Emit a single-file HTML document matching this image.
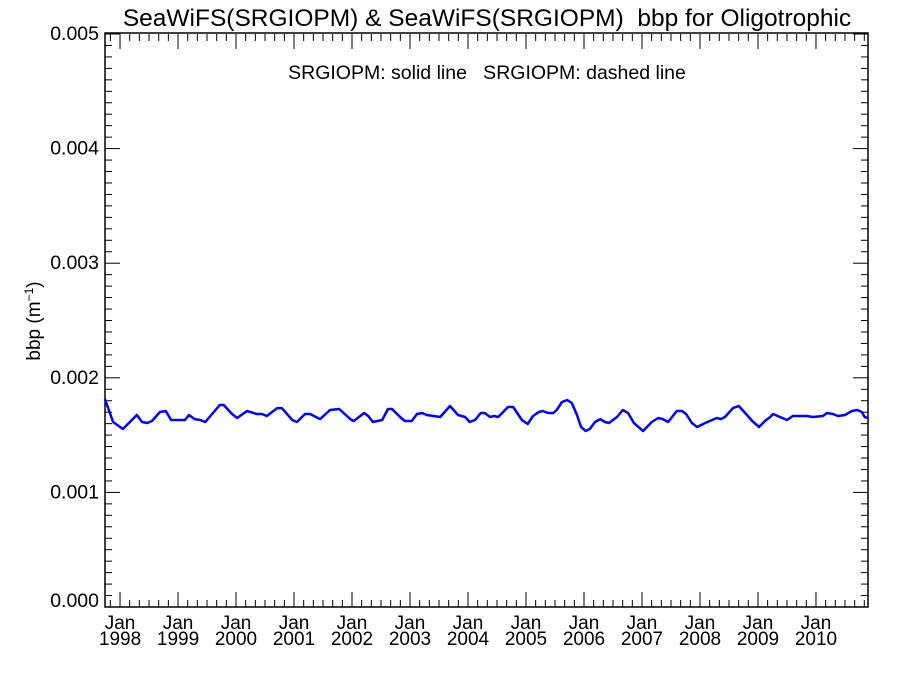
<!DOCTYPE html>
<html><head><meta charset="utf-8"><style>
body{margin:0;background:#fff;}
svg{display:block;font-family:"Liberation Sans",sans-serif;}
</style></head><body>
<svg id="chart" width="900" height="675" viewBox="0 0 900 675" xmlns="http://www.w3.org/2000/svg">
<rect width="900" height="675" fill="#fff"/>
<text x="487" y="26" font-size="24.5" text-anchor="middle" style="white-space:pre">SeaWiFS(SRGIOPM) &amp; SeaWiFS(SRGIOPM)  bbp for Oligotrophic</text>
<text x="487" y="79" font-size="19.5" text-anchor="middle" style="white-space:pre">SRGIOPM: solid line   SRGIOPM: dashed line</text>
<text transform="translate(40,321) rotate(-90)" font-size="19" text-anchor="middle">bbp (m<tspan font-size="12" dy="-7">−1</tspan><tspan dy="7">)</tspan></text>
<g id="axes"></g>
<g id="series"></g>
</svg>
<script>
const times=[1997.74,1997.88,1998.05,1998.17,1998.29,1998.38,1998.47,1998.55,1998.69,1998.79,1998.88,1999.12,1999.19,1999.29,1999.38,1999.47,1999.72,1999.79,1999.93,2000.02,2000.19,2000.36,2000.45,2000.53,2000.71,2000.79,2000.97,2001.05,2001.19,2001.28,2001.45,2001.62,2001.78,2001.97,2002.03,2002.21,2002.28,2002.36,2002.52,2002.62,2002.69,2002.83,2002.91,2003.03,2003.12,2003.21,2003.29,2003.52,2003.69,2003.83,2003.95,2004.03,2004.12,2004.22,2004.29,2004.38,2004.45,2004.52,2004.69,2004.78,2004.93,2005.03,2005.12,2005.22,2005.29,2005.38,2005.47,2005.53,2005.62,2005.71,2005.79,2005.88,2005.95,2006.03,2006.10,2006.19,2006.28,2006.36,2006.43,2006.57,2006.67,2006.76,2006.86,2007.02,2007.17,2007.28,2007.36,2007.45,2007.60,2007.69,2007.76,2007.86,2007.95,2008.09,2008.29,2008.36,2008.43,2008.57,2008.67,2008.78,2008.90,2009.02,2009.12,2009.21,2009.26,2009.38,2009.50,2009.60,2009.84,2009.95,2010.12,2010.19,2010.29,2010.38,2010.50,2010.62,2010.71,2010.79,2010.84,2010.90];
const bbp=[1.815,1.614,1.553,1.614,1.675,1.614,1.606,1.623,1.702,1.710,1.632,1.632,1.675,1.640,1.632,1.614,1.763,1.763,1.684,1.649,1.710,1.684,1.684,1.667,1.736,1.736,1.632,1.614,1.684,1.684,1.640,1.719,1.728,1.640,1.623,1.693,1.667,1.614,1.632,1.728,1.728,1.658,1.623,1.623,1.684,1.693,1.675,1.658,1.754,1.675,1.658,1.614,1.632,1.693,1.693,1.658,1.667,1.658,1.745,1.745,1.632,1.597,1.667,1.702,1.710,1.693,1.693,1.719,1.789,1.806,1.780,1.675,1.571,1.536,1.553,1.614,1.640,1.614,1.606,1.658,1.719,1.693,1.606,1.536,1.614,1.649,1.640,1.614,1.710,1.710,1.684,1.606,1.571,1.606,1.649,1.640,1.658,1.736,1.754,1.693,1.623,1.571,1.623,1.658,1.684,1.658,1.632,1.667,1.667,1.658,1.667,1.693,1.684,1.667,1.675,1.710,1.719,1.702,1.658,1.649];
const yTicks=[0,0.001,0.002,0.003,0.004,0.005];
const yTickLabels=["0.000","0.001","0.002","0.003","0.004","0.005"];
const xYears=[1998,1999,2000,2001,2002,2003,2004,2005,2006,2007,2008,2009,2010];
const L=105,R=868,T=34,B=607,X0=1997.741,X1=2010.897,Y0=0,Y1=0.005;
const NS='http://www.w3.org/2000/svg';
function sx(t){return L+(t-X0)/(X1-X0)*(R-L);}
function sy(v){return B-(v-Y0)/(Y1-Y0)*(B-T);}
function mk(tag,attrs,parent){const e=document.createElementNS(NS,tag);for(const k in attrs)e.setAttribute(k,attrs[k]);parent.appendChild(e);return e;}
const ax=document.getElementById('axes');
const frame=mk('rect',{x:L,y:T-1,width:R-L,height:B-T+1,fill:'none',stroke:'#000','stroke-width':1.5},ax);


for(let i=0;i<=50;i++){const v=i*0.0001;const y=sy(v);const major=i%10===0;const len=major?15:7;
 const t1=mk('line',{x1:L,x2:L+len,y1:y,y2:y,stroke:'#000','stroke-width':1},ax);
 
 
 const t2=mk('line',{x1:R,x2:R-len,y1:y,y2:y,stroke:'#000','stroke-width':1},ax);
 
 }
yTicks.forEach((v,i)=>{const t=mk('text',{x:L-6,y:sy(v)+(i===0?0:6),'font-size':19.5,'text-anchor':'end'},ax);t.textContent=yTickLabels[i];
 
 });
for(let m=-4;m<=13*12;m+=2){const t=1998+m/12; if(t<X0||t>X1)continue;const x=sx(t);const major=m%12===0;const len=major?15:7;
 const a=mk('line',{x1:x,x2:x,y1:B,y2:B-len,stroke:'#000','stroke-width':1},ax);
 
 
 const b=mk('line',{x1:x,x2:x,y1:T,y2:T+len,stroke:'#000','stroke-width':1},ax);
 
 }
xYears.forEach(yr=>{const x=sx(yr);
 const a=mk('text',{x:x,y:629,'font-size':19,'text-anchor':'middle'},ax);a.textContent='Jan';
 
 
 const b=mk('text',{x:x,y:645,'font-size':19,'text-anchor':'middle'},ax);b.textContent=String(yr);
 
 });
const sg=document.getElementById('series');
const n=Math.min(times.length,bbp.length);
const pts=times.slice(0,n).map((t,i)=>sx(t).toFixed(1)+','+sy(bbp[i]*0.001).toFixed(1)).join(' ');
const line=mk('polyline',{points:pts,fill:'none',stroke:'#0000ff','stroke-width':2.5,'stroke-linejoin':'round'},sg);


</script>
</body></html>
